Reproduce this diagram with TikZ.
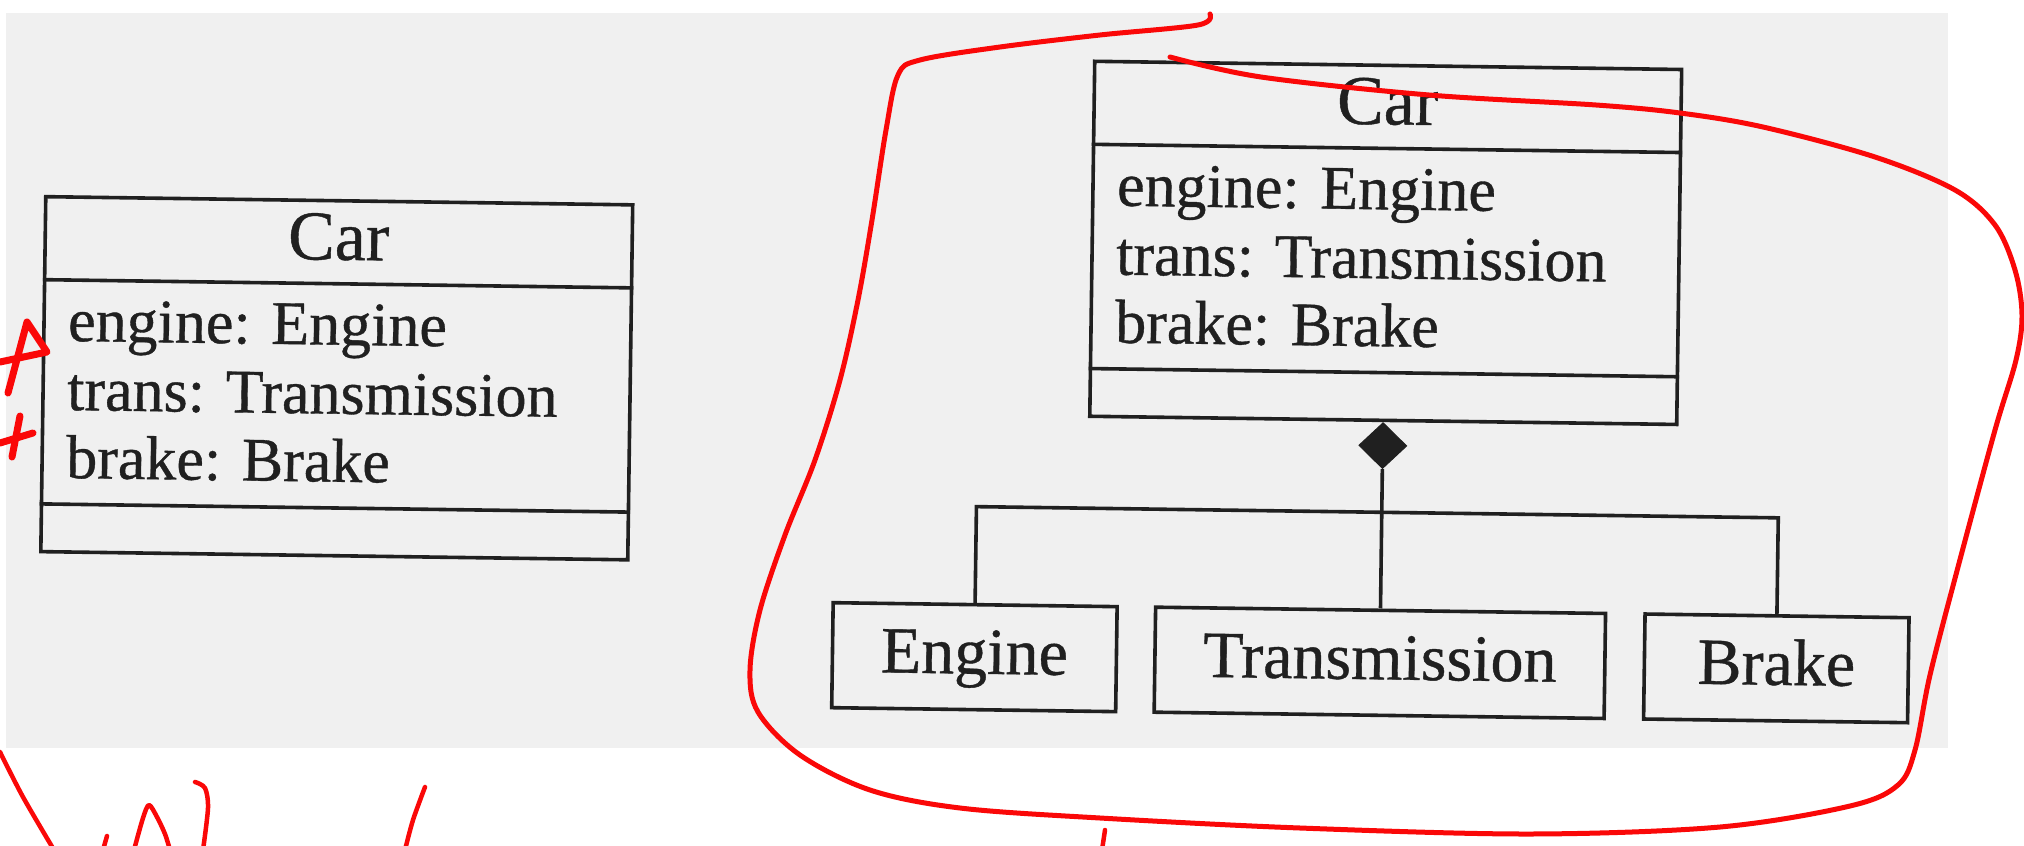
\documentclass[tikz,border=0pt]{standalone}
\usepackage{fontspec}
\setmainfont{Liberation Serif}[FakeBold=0.6]
\usetikzlibrary{shapes.geometric,calc}
\definecolor{ink}{RGB}{32,32,32}
\definecolor{paper}{RGB}{240,240,240}
\definecolor{pen}{RGB}{250,8,8}
\newcommand{\attrfont}{\fontsize{62}{68}\selectfont}
\newcommand{\namefont}{\fontsize{70}{76}\selectfont}
\newcommand{\partfont}{\fontsize{66}{72}\selectfont}
\begin{document}
\begin{tikzpicture}[x=1pt,y=-1pt,
  cls/.style={draw=ink, line width=3.6pt, minimum width=587pt, minimum height=355pt, inner sep=0pt},
  part/.style={draw=ink, line width=3.6pt, minimum height=105pt, inner sep=0pt},
  attr/.style={anchor=base west, font=\attrfont, text=ink, inner sep=0pt},
  cname/.style={anchor=base, font=\namefont, text=ink, inner sep=0pt},
  pname/.style={anchor=base, font=\partfont, text=ink, inner sep=0pt},
  link/.style={draw=ink, line width=3.6pt},
  pen/.style={draw=pen, line width=5pt, line cap=round, line join=round},
]
\useasboundingbox (0,0) rectangle (2024,846);
\clip (0,0) rectangle (2024,846);
\fill[white] (0,0) rectangle (2024,846);
\fill[paper] (6,13) rectangle (1948,748);

\begin{scope}[rotate around={-0.8:(1000,400)}, transform shape]
  % left class box
  \node[cls] (carA) at (336.5,387.5) {};
  \draw[link] ($(carA.north west)!0.2366!(carA.south west)$) -- ($(carA.north east)!0.2366!(carA.south east)$);
  \draw[link] ($(carA.north west)!0.862!(carA.south west)$) -- ($(carA.north east)!0.862!(carA.south east)$);
  \node[cname] (carAn) at (336.5,269) {Car};
  \node[attr] (carAa) at (67,354) {engine: Engine};
  \node[attr] (carAb) at (67,423) {trans: Transmission};
  \node[attr] (carAc) at (67,491) {brake: Brake};

  % right class box
  \node[cls] (carB) at (1383.5,237.5) {};
  \draw[link] ($(carB.north west)!0.2366!(carB.south west)$) -- ($(carB.north east)!0.2366!(carB.south east)$);
  \draw[link] ($(carB.north west)!0.862!(carB.south west)$) -- ($(carB.north east)!0.862!(carB.south east)$);
  \node[cname] (carBn) at (1383.5,119) {Car};
  \node[attr] (carBa) at (1114,204) {engine: Engine};
  \node[attr] (carBb) at (1114,273) {trans: Transmission};
  \node[attr] (carBc) at (1114,341) {brake: Brake};

  % composition
  \node[diamond, fill=ink, draw=ink, line width=1pt, inner sep=0pt,
        minimum width=48pt, minimum height=46pt, anchor=north] (dia) at (carB.south) {};
  \node[part, minimum width=284pt] (eng) at (978,657.5) {};
  \node[part, minimum width=450pt] (trn) at (1383.5,657.5) {};
  \node[part, minimum width=264pt] (brk) at (1780,657.5) {};
  \node[pname] (engT) at (978,674) {Engine};
  \node[pname] (trnT) at (1383.5,674) {Transmission};
  \node[pname] (brkT) at (1780,674) {Brake};
  \coordinate (bar) at (1383.5,507);
  \draw[link] (dia.south) -- (trn.north);
  \draw[link] (eng.north) |- (bar) -| (brk.north);
\end{scope}

% red hand-drawn loop
\draw[pen] plot[smooth, tension=0.55] coordinates {(1210,14) (1198,25) (1100,35) (1000,47) (920,60) (898,75) (886,130) (872,220) (858,300) (840,380) (815,460) (785,535) (760,610) (750,670) (758,712) (800,755) (870,790) (960,808) (1100,818) (1300,828) (1530,834) (1720,827) (1850,806) (1898,785) (1915,750) (1930,675) (1958,567) (1995,430) (2016,360) (2022,315) (2015,270) (1995,225) (1955,190) (1875,157) (1763,127) (1680,113) (1596,105) (1429,95) (1261,77) (1170,57)};

% red marks beside the left box
\draw[pen, line width=7pt] (8,393) -- (27,322) -- (47,352) -- (0,362);
\draw[pen, line width=7pt] (0,443) -- (33,433) (20,416) -- (12,457);

% red handwriting at the bottom
\draw[pen, line width=4.5pt] plot[smooth] coordinates {(0,752) (23,797) (54,850)};
\draw[pen, line width=4.5pt] (107,836) -- (103,850);
\draw[pen, line width=4.5pt] plot[smooth] coordinates {(134,850) (143,818) (149,805) (157,817) (165,834) (170,850)};
\draw[pen, line width=4.5pt] plot[smooth] coordinates {(195,782) (205,788) (208,808) (203,850)};
\draw[pen, line width=4.5pt] plot[smooth] coordinates {(425,787) (413,820) (405,850)};
\draw[pen, line width=4.5pt] (1105,830) -- (1102,850);
\end{tikzpicture}
\end{document}
